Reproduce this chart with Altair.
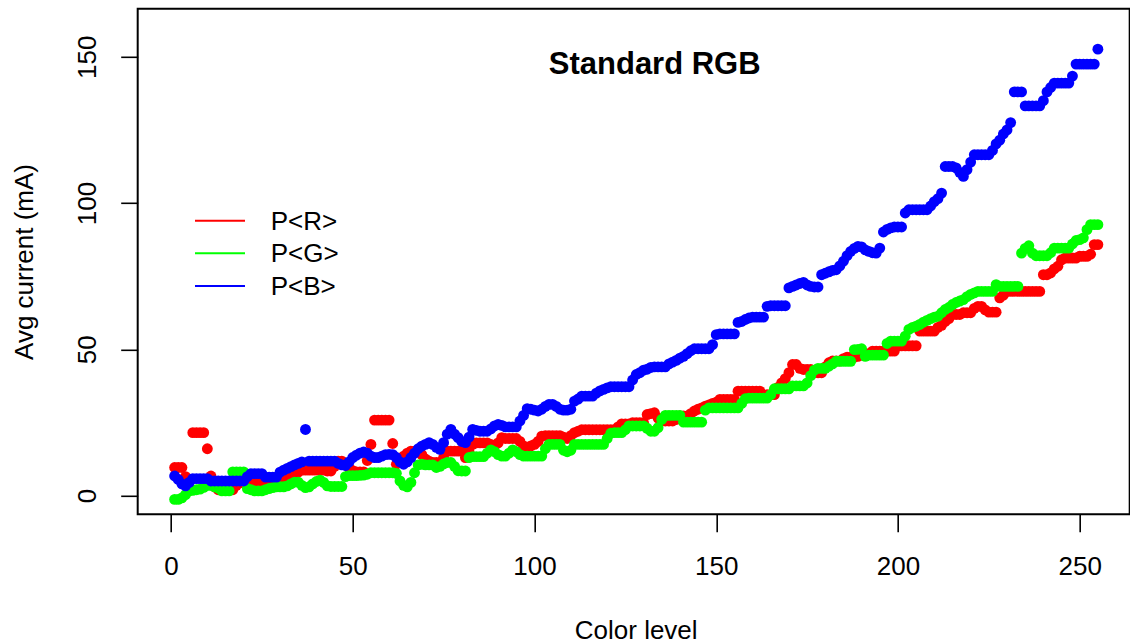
import altair as alt
import pandas as pd

levels = list(range(1, 256))

red = [
    9.6, 9.6, 9.6, 6.5, 5.5, 21.5, 21.5, 21.5, 21.5, 16.0,
    6.7, 3.0, 2.0, 2.0, 2.0, 2.0, 2.0, 3.5, 4.4, 4.4,
    4.4, 4.4, 4.4, 4.4, 4.4, 4.4, 4.4, 5.6, 5.6, 5.6,
    5.6, 6.5, 7.3, 7.3, 8.0, 8.7, 8.7, 8.7, 8.7, 8.7,
    8.7, 8.7, 8.4, 8.4, 10.0, 11.8, 11.8, 10.5, 9.5, 8.5,
    8.1, 8.1, 8.1, 12.0, 17.5, 25.8, 25.8, 25.8, 25.8, 25.8,
    17.8, 10.7, 12.0, 13.5, 14.5, 15.2, 15.2, 15.2, 14.0, 12.5,
    11.8, 11.3, 11.3, 11.3, 13.0, 15.2, 15.2, 15.2, 15.2, 15.2,
    13.0, 15.0, 17.5, 18.0, 18.0, 18.0, 18.0, 17.5, 16.9, 18.0,
    19.8, 19.5, 19.5, 19.5, 19.5, 18.5, 17.0, 16.4, 17.0, 17.5,
    18.5, 20.3, 20.5, 20.5, 20.5, 20.5, 20.5, 20.0, 19.5, 20.5,
    21.5, 22.0, 22.5, 22.5, 22.5, 22.5, 22.5, 22.5, 22.5, 22.5,
    22.5, 22.5, 23.5, 24.5, 24.5, 24.5, 24.9, 24.9, 24.9, 24.9,
    27.7, 28.0, 28.3, 26.5, 25.5, 25.5, 25.5, 25.5, 26.0, 27.2,
    27.2, 27.2, 28.0, 28.9, 29.5, 30.0, 30.6, 31.0, 31.5, 31.9,
    32.9, 32.9, 32.9, 32.9, 32.9, 35.7, 35.7, 35.7, 35.7, 35.7,
    35.7, 35.7, 34.0, 34.5, 34.5, 34.5, 37.0, 38.5, 40.0, 42.0,
    44.8, 44.8, 43.5, 43.1, 43.1, 43.1, 42.0, 42.0, 42.0, 44.0,
    45.4, 46.0, 46.0, 46.0, 46.8, 47.3, 47.3, 47.3, 47.6, 48.5,
    48.5, 48.5, 49.4, 49.4, 49.4, 49.4, 49.4, 49.4, 49.4, 51.2,
    51.2, 51.2, 51.2, 51.2, 51.2, 56.2, 56.2, 56.2, 56.2, 56.2,
    57.5, 58.2, 59.5, 60.5, 61.9, 61.9, 61.9, 62.5, 62.5, 62.5,
    64.0, 64.7, 64.7, 63.5, 62.7, 62.7, 62.7, 67.6, 68.5, 69.8,
    69.8, 69.8, 69.8, 69.8, 69.8, 69.8, 69.8, 69.8, 69.8, 75.5,
    75.5, 76.1, 77.5, 78.4, 80.6, 81.2, 81.2, 81.2, 81.2, 81.8,
    81.8, 81.8, 82.5, 85.8, 85.8,
]

green = [
    -1.3, -1.3, -0.8, 0.3, 1.6, 1.8, 2.0, 2.2, 2.8, 3.5,
    3.5, 3.0, 2.5, 1.6, 1.6, 1.6, 8.1, 8.1, 8.1, 8.1,
    2.4, 2.0, 1.6, 1.6, 1.6, 2.0, 2.4, 2.7, 3.0, 3.0,
    3.0, 3.3, 4.0, 4.6, 4.6, 3.5, 2.7, 3.0, 4.0, 4.8,
    5.3, 4.5, 3.3, 3.1, 3.1, 3.1, 3.1, 6.5, 6.8, 6.8,
    6.8, 6.9, 7.0, 7.3, 7.8, 7.8, 7.8, 7.8, 7.8, 7.8,
    7.8, 7.6, 5.0, 3.5, 3.0, 4.5, 7.8, 10.5, 10.7, 10.5,
    10.5, 10.5, 9.6, 10.0, 10.8, 11.3, 11.3, 10.0, 8.5, 8.4,
    8.4, 13.0, 13.3, 13.3, 13.3, 13.3, 14.5, 15.6, 15.0, 14.0,
    13.5, 13.5, 14.5, 15.6, 15.0, 14.0, 13.5, 13.5, 13.5, 13.5,
    13.5, 13.5, 16.0, 17.5, 17.5, 17.5, 17.5, 15.5, 15.0, 15.5,
    17.5, 17.5, 17.5, 17.5, 17.5, 17.5, 17.5, 17.5, 17.5, 19.5,
    21.3, 21.5, 21.5, 21.5, 22.5, 23.8, 23.8, 23.8, 23.8, 23.8,
    23.0, 22.0, 22.0, 23.2, 26.0, 27.4, 27.4, 27.4, 27.4, 27.4,
    25.1, 25.1, 25.1, 25.1, 25.1, 25.1, 29.2, 30.0, 30.0, 30.0,
    30.0, 30.0, 30.0, 30.0, 30.0, 30.0, 31.5, 33.1, 33.3, 33.3,
    33.3, 33.3, 33.3, 33.3, 34.5, 36.5, 36.5, 36.5, 36.5, 36.5,
    37.5, 37.5, 37.5, 37.5, 38.5, 41.0, 42.9, 43.5, 43.5, 43.5,
    44.2, 45.0, 45.9, 45.9, 45.9, 45.9, 45.9, 49.9, 50.0, 50.2,
    47.6, 48.0, 48.0, 48.0, 48.0, 48.0, 52.0, 52.8, 52.8, 52.8,
    52.8, 54.5, 56.8, 57.5, 57.9, 58.5, 59.3, 59.9, 60.5, 61.0,
    61.3, 62.5, 63.6, 64.3, 65.3, 66.0, 66.5, 67.0, 68.0, 68.8,
    69.3, 69.8, 69.8, 69.8, 69.8, 69.8, 72.1, 71.5, 71.5, 71.5,
    71.5, 71.5, 71.5, 82.9, 84.5, 85.4, 82.9, 82.0, 82.0, 82.0,
    82.0, 83.0, 84.6, 84.6, 84.6, 84.6, 84.6, 86.0, 87.2, 87.5,
    88.1, 90.9, 92.6, 92.6, 92.6,
]

blue = [
    6.7, 5.5, 4.0, 3.3, 4.5, 5.8, 5.8, 5.8, 5.8, 5.8,
    5.0, 5.0, 5.0, 5.0, 5.0, 5.0, 5.0, 5.0, 5.0, 5.0,
    6.5, 7.5, 7.5, 7.5, 7.5, 6.3, 6.3, 6.3, 6.3, 8.0,
    8.7, 9.3, 9.9, 10.5, 11.0, 11.5, 22.6, 11.8, 11.8, 11.8,
    11.8, 11.8, 11.8, 11.8, 11.8, 11.0, 10.5, 10.3, 11.5, 13.0,
    13.8, 14.5, 14.9, 14.5, 13.5, 13.0, 13.0, 13.5, 14.0, 14.1,
    14.0, 13.0, 11.5, 10.7, 11.5, 13.0, 14.5, 16.0, 16.9, 17.5,
    18.1, 17.5, 16.5, 15.8, 18.1, 21.0, 22.6, 21.0, 19.8, 18.5,
    18.1, 20.0, 22.6, 22.3, 22.0, 22.0, 22.0, 22.8, 23.8, 24.3,
    24.0, 23.5, 23.5, 23.5, 23.5, 25.5, 27.4, 29.7, 29.5, 29.2,
    28.9, 29.5, 30.5, 31.2, 31.2, 30.5, 29.5, 29.2, 29.2, 29.5,
    32.3, 33.0, 34.0, 34.0, 34.0, 34.0, 35.0, 35.8, 36.3, 36.8,
    37.2, 37.2, 37.2, 37.2, 37.2, 37.2, 39.5, 41.4, 42.0, 42.9,
    43.2, 43.8, 44.0, 44.0, 44.0, 44.0, 45.0, 45.6, 46.2, 47.0,
    47.6, 48.5, 49.5, 50.2, 50.2, 50.2, 50.2, 50.2, 51.6, 55.0,
    55.3, 55.3, 55.3, 55.3, 55.3, 59.2, 59.5, 60.2, 60.7, 61.0,
    61.0, 61.0, 61.0, 64.7, 64.9, 64.9, 64.9, 64.9, 64.9, 71.0,
    71.5, 72.0, 72.5, 72.9, 72.0, 71.5, 71.3, 71.3, 75.5, 76.0,
    76.5, 77.0, 77.2, 78.5, 80.1, 82.0, 83.5, 84.5, 85.2, 85.0,
    84.0, 83.5, 83.0, 82.9, 84.6, 90.1, 91.0, 91.5, 91.8, 91.8,
    91.8, 96.6, 97.7, 97.7, 97.7, 97.7, 97.7, 97.7, 99.0, 100.5,
    101.5, 103.4, 112.5, 112.5, 112.5, 112.0, 110.5, 109.1, 111.4, 114.0,
    116.5, 116.5, 116.5, 116.5, 116.5, 118.0, 120.2, 121.5, 123.6, 125.0,
    127.5, 138.0, 138.0, 138.0, 133.2, 133.2, 133.2, 133.2, 133.2, 135.0,
    138.0, 139.5, 141.0, 141.0, 141.0, 141.0, 141.0, 143.4, 147.5, 147.5,
    147.5, 147.5, 147.5, 147.5, 152.6,
]

series_names = ["P<R>", "P<G>", "P<B>"]
series_colors = ["#FF0000", "#00FF00", "#0000FF"]
legend_rows = [0, 1, 2]
x_ticks = [0, 50, 100, 150, 200, 250]
y_ticks = [0, 50, 100, 150]

rows = []
for name, vals in zip(series_names, [red, green, blue]):
    for lvl, v in zip(levels, vals):
        rows.append({"level": lvl, "current": v, "series": name})
df = pd.DataFrame(rows)
df["order"] = range(len(df))
legend_df = pd.DataFrame({"series": series_names, "row": legend_rows})

FONT = "Liberation Sans"

scale_c = alt.Scale(domain=series_names, range=series_colors)

points = alt.Chart(df).mark_circle(size=118, opacity=1, strokeWidth=0).encode(
    x=alt.X("level:Q", scale=alt.Scale(domain=[-9.16, 263.75], nice=False, zero=False),
            axis=alt.Axis(values=x_ticks, title="Color level", grid=False, domain=False,
                          tickSize=17.5, tickWidth=1.6, tickColor="black",
                          labelFontSize=26, labelFont=FONT, labelColor="black",
                          labelPadding=22, labelFlush=False,
                          titleFontSize=26, titleFont=FONT, titleFontWeight="normal",
                          titleColor="black", titleBaseline="alphabetic",
                          titleX=498, titleY=124, titleAnchor="start", titleAlign="center")),
    y=alt.Y("current:Q", scale=alt.Scale(domain=[-6.4, 166.4], nice=False, zero=False),
            axis=alt.Axis(values=y_ticks, title="Avg current (mA)", grid=False, domain=False,
                          tickSize=17, tickWidth=1.6, tickColor="black",
                          labelFontSize=26, labelFont=FONT, labelColor="black",
                          labelAngle=270, labelAlign="center", labelBaseline="bottom",
                          labelPadding=20, labelFlush=False,
                          titleFontSize=26, titleFont=FONT, titleFontWeight="normal",
                          titleColor="black", titleAngle=270, titleAlign="center",
                          titleBaseline="middle", titleX=-113, titleY=252.7)),
    color=alt.Color("series:N", scale=scale_c, legend=None),
    order=alt.Order("order:Q"),
)

legend_y = alt.Y("row:Q", scale=alt.Scale(domain=[0, 2], range=[211.9, 277.2], nice=False, zero=False),
                 axis=None)

legend_lines = alt.Chart(legend_df).mark_rule(strokeWidth=2).encode(
    x=alt.value(57.3), x2=alt.value(107.3),
    y=legend_y,
    color=alt.Color("series:N", scale=scale_c, legend=None),
)

legend_text = alt.Chart(legend_df).mark_text(
    align="left", baseline="middle", fontSize=26, font=FONT, color="black", dy=1
).encode(
    x=alt.value(133),
    y=legend_y,
    text="series:N",
)

chart = alt.layer(points, legend_lines, legend_text).resolve_scale(
    y="independent"
).properties(
    width=992, height=505.5,
    background="white",
    padding={"left": 137.7, "top": 8.8, "right": 0, "bottom": 128.7},
    autosize=alt.AutoSizeParams(type="none"),
    title=alt.TitleParams("Standard RGB", fontSize=31, font=FONT, fontWeight="bold",
                          color="black", anchor="middle", baseline="middle",
                          offset=0, dy=87, dx=21),
).configure_view(stroke="#000000", strokeWidth=2, strokeOpacity=1)

chart.save("out.html", embed_options={"renderer": "svg", "actions": False})
